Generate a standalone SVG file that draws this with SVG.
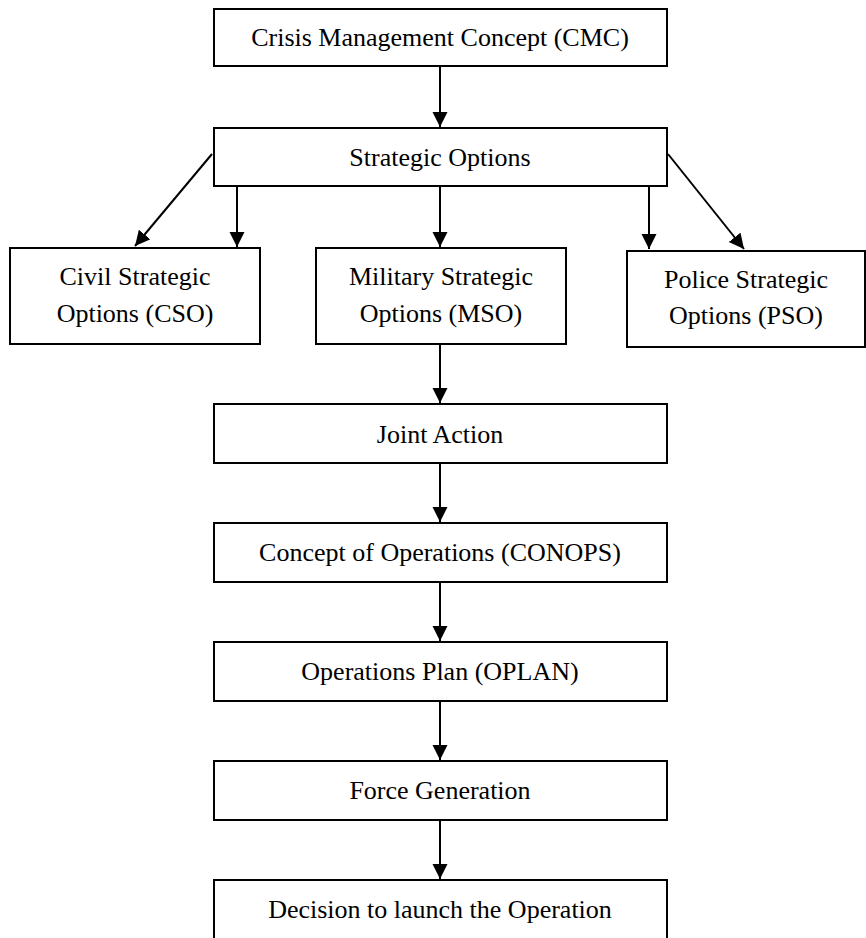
<svg xmlns="http://www.w3.org/2000/svg" width="866" height="938" viewBox="0 0 866 938">
<style>
.box{fill:#fff;stroke:#000;stroke-width:2}
.t{font-family:"Liberation Serif","DejaVu Serif",serif;font-size:26px;fill:#000;text-anchor:middle}
.c{stroke:#000;stroke-width:2;fill:none;marker-end:url(#ah)}
</style>
<defs>
<marker id="ah" markerUnits="userSpaceOnUse" markerWidth="16" markerHeight="16" refX="15" refY="7.5" orient="auto">
<path d="M0,0 L15,7.5 L0,15 z" fill="#000"/>
</marker>
</defs>
<rect width="866" height="938" fill="#fff"/>
<g id="connectors">
<line class="c" x1="440" y1="66" x2="440" y2="127"/>
<line class="c" x1="212" y1="154" x2="135" y2="246"/>
<line class="c" x1="237" y1="187" x2="237" y2="247"/>
<line class="c" x1="440" y1="187" x2="440" y2="247"/>
<line class="c" x1="649" y1="187" x2="649" y2="249"/>
<line class="c" x1="668" y1="154" x2="744" y2="249"/>
<line class="c" x1="440" y1="344" x2="440" y2="403"/>
<line class="c" x1="440" y1="463" x2="440" y2="522"/>
<line class="c" x1="440" y1="582" x2="440" y2="641"/>
<line class="c" x1="440" y1="701" x2="440" y2="760"/>
<line class="c" x1="440" y1="820" x2="440" y2="879"/>
</g>
<g id="cmc"><rect class="box" x="214" y="9" width="453" height="57"/><text class="t" x="440" y="46">Crisis Management Concept (CMC)</text></g>
<g id="so"><rect class="box" x="214" y="128" width="453" height="58"/><text class="t" x="440" y="166">Strategic Options</text></g>
<g id="cso"><rect class="box" x="10" y="248" width="250" height="96"/><text class="t" x="135" y="285">Civil Strategic</text><text class="t" x="135" y="322">Options (CSO)</text></g>
<g id="mso"><rect class="box" x="316" y="248" width="250" height="96"/><text class="t" x="441" y="285">Military Strategic</text><text class="t" x="441" y="322">Options (MSO)</text></g>
<g id="pso"><rect class="box" x="627" y="251" width="238" height="96"/><text class="t" x="746" y="288">Police Strategic</text><text class="t" x="746" y="324">Options (PSO)</text></g>
<g id="joint"><rect class="box" x="214" y="404" width="453" height="59"/><text class="t" x="440" y="443">Joint Action</text></g>
<g id="conops"><rect class="box" x="214" y="523" width="453" height="59"/><text class="t" x="440" y="561">Concept of Operations (CONOPS)</text></g>
<g id="oplan"><rect class="box" x="214" y="642" width="453" height="59"/><text class="t" x="440" y="680">Operations Plan (OPLAN)</text></g>
<g id="force"><rect class="box" x="214" y="761" width="453" height="59"/><text class="t" x="440" y="799">Force Generation</text></g>
<g id="decision"><rect class="box" x="214" y="880" width="453" height="70"/><text class="t" x="440" y="918">Decision to launch the Operation</text></g>
</svg>
